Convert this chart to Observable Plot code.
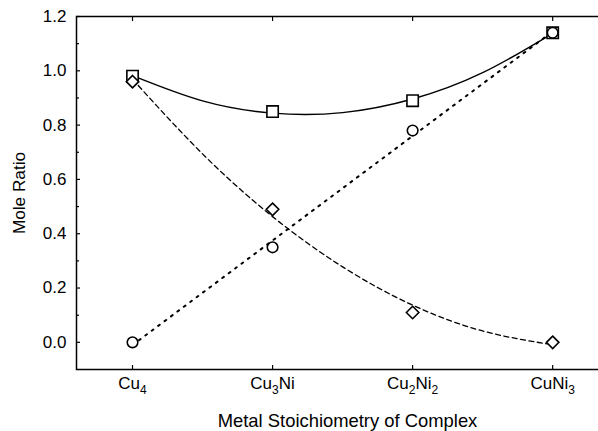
<!DOCTYPE html>
<html><head><meta charset="utf-8">
<script src="https://cdn.jsdelivr.net/npm/d3@7"></script>
<script src="https://cdn.jsdelivr.net/npm/@observablehq/plot@0.6"></script>
<style>
body{margin:0;background:#fff}
#chart svg{display:block;overflow:hidden}
</style>
</head><body><div id="chart"></div>
<script>
// Categories (x positions 0..3)
const categories = ["Cu4", "Cu3Ni", "Cu2Ni2", "CuNi3"];
const catPos = [0, 1, 2, 3];

// Measured points
const squareVals  = [0.98, 0.85, 0.89, 1.14];
const circleVals  = [0.00, 0.35, 0.78, 1.14];
const diamondVals = [0.96, 0.49, 0.11, 0.00];

// Fitted curves
const fitPos    = [0, 0.5, 1, 1.5, 2, 2.5, 3];
const solidFit  = [0.982, 0.889, 0.844, 0.846, 0.896, 0.993, 1.138];
const dashedFit = [0.969, 0.694, 0.463, 0.278, 0.137, 0.042, -0.009];

// Axis ticks
const yMajor = [0.0, 0.2, 0.4, 0.6, 0.8, 1.0, 1.2];
const yMinor = [0.1, 0.3, 0.5, 0.7, 0.9, 1.1];

const squares  = catPos.map((x, i) => ({x, y: squareVals[i]}));
const circles  = catPos.map((x, i) => ({x, y: circleVals[i]}));
const diamonds = catPos.map((x, i) => ({x, y: diamondVals[i]}));
const solidCurve  = fitPos.map((x, i) => ({x, y: solidFit[i]}));
const dashedCurve = fitPos.map((x, i) => ({x, y: dashedFit[i]}));

const font = "'Liberation Sans', Arial, Helvetica, sans-serif";

const chart = Plot.plot({
  width: 598,
  height: 431,
  marginTop: 16,
  marginBottom: 62,
  marginLeft: 76,
  marginRight: -20,
  style: {fontFamily: font, fontSize: "17px", color: "black", background: "white"},
  x: {type: "linear", domain: [-0.4, 3.47]},
  y: {domain: [-0.1, 1.2]},
  marks: [
    Plot.frame({stroke: "black", strokeWidth: 1.5}),
    // y axis: labels
    Plot.axisY(yMajor, {tickSize: 0, tickPadding: 10, tickFormat: d3.format(".1f"),
      label: "Mole Ratio", labelAnchor: "center", labelOffset: 64, labelArrow: "none", fontSize: 17}),
    // y axis: inward ticks
    Plot.axisY(yMajor, {tickSize: 4, dx: 4, fill: "none", label: null, strokeWidth: 1.2}),
    Plot.axisY(yMinor, {tickSize: 3, dx: 3, fill: "none", label: null, strokeWidth: 1.2}),
    // x axis: labels
    Plot.axisX(catPos, {tickSize: 0, tickPadding: 7, tickFormat: i => categories[i],
      label: "Metal Stoichiometry of Complex", labelAnchor: "center", labelOffset: 57, labelArrow: "none", fontSize: 17}),
    // x axis: inward ticks bottom and top
    Plot.axisX(catPos, {tickSize: 4, dy: -4, fill: "none", label: null, strokeWidth: 1.2}),
    Plot.axisX(catPos, {anchor: "top", tickSize: 4, dy: 4, fill: "none", label: null, strokeWidth: 1.2}),
    // curves
    Plot.line(solidCurve, {x: "x", y: "y", curve: "natural", stroke: "black", strokeWidth: 1.4}),
    Plot.line(dashedCurve, {x: "x", y: "y", curve: "natural", stroke: "black", strokeWidth: 1.3, strokeDasharray: "5,3.5"}),
    Plot.linearRegressionY(circles, {x: "x", y: "y", stroke: "black", strokeWidth: 2, strokeDasharray: "2,6", ci: 0}),
    // markers
    Plot.dot(squares,  {x: "x", y: "y", symbol: "square",   r: 6.4, stroke: "black", strokeWidth: 1.6, fill: "white"}),
    Plot.dot(circles,  {x: "x", y: "y", symbol: "circle",   r: 5.3, stroke: "black", strokeWidth: 1.6, fill: "white"}),
    Plot.dot(diamonds, {x: "x", y: "y", symbol: "diamond2", r: 5.6, stroke: "black", strokeWidth: 1.6, fill: "white"})
  ]
});

document.getElementById("chart").appendChild(chart);

// Render digits in category names as subscripts
d3.select(chart).selectAll('g[aria-label="x-axis tick label"] text').each(function () {
  const t = d3.select(this);
  const s = this.textContent;
  t.text(null);
  const parts = s.split(/(\d+)/).filter(p => p.length);
  let shifted = false;
  parts.forEach(p => {
    const isDigit = /^\d+$/.test(p);
    const ts = t.append("tspan").text(p);
    if (isDigit) {
      ts.attr("font-size", "12px").attr("dy", shifted ? null : "5");
      shifted = true;
    } else if (shifted) {
      ts.attr("dy", "-5");
      shifted = false;
    }
  });
});
// Axis title sizes
d3.select(chart).selectAll('g[aria-label="x-axis label"] text').attr("font-size", "18.4px");
d3.select(chart).selectAll('g[aria-label="y-axis label"] text').attr("font-size", "17.2px");
</script>
</body></html>
